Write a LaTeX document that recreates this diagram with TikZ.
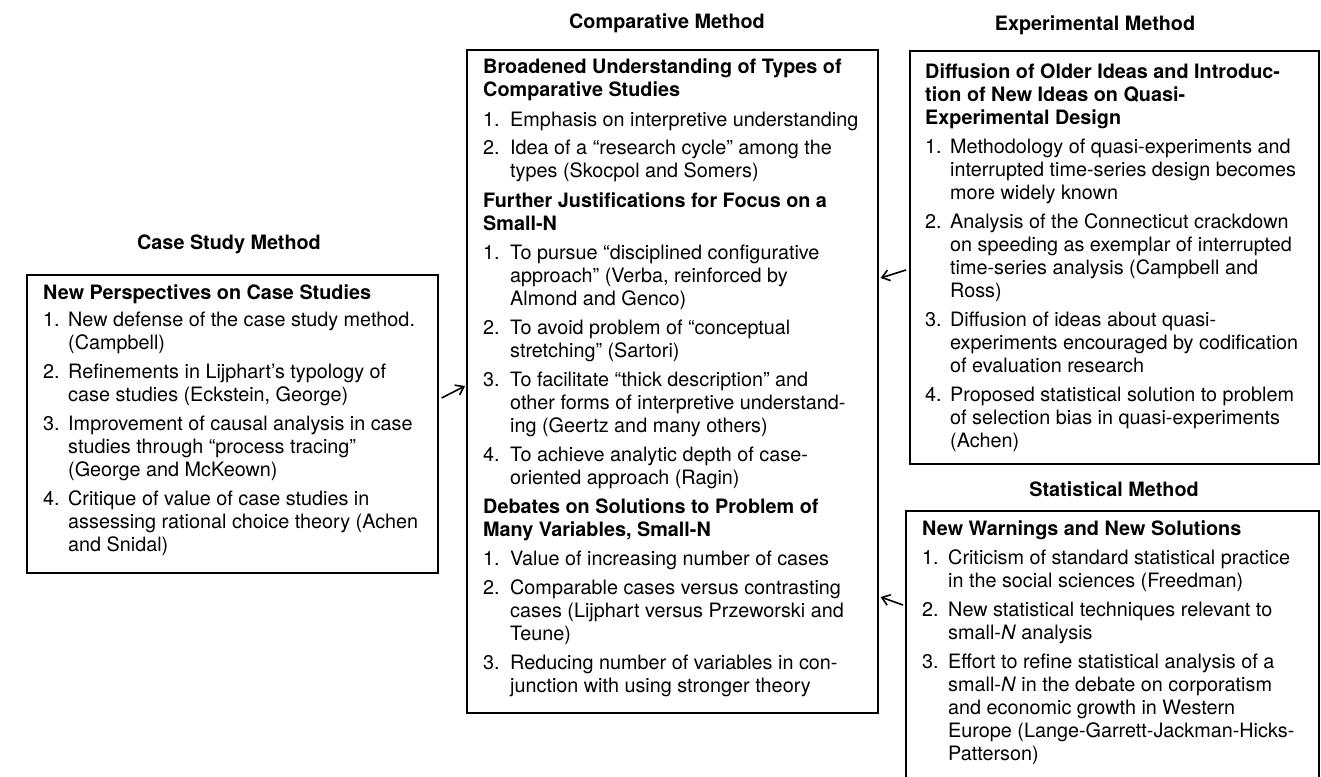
\documentclass[tikz,border=0pt]{standalone}
\usepackage{fontspec}
\setmainfont{TeX Gyre Heros}
\usetikzlibrary{arrows.meta,calc}
\tikzset{
  box/.style={draw, line width=1.6pt, anchor=north west, inner sep=0pt},
  txt/.style={anchor=base west, inner sep=0pt, font=\fontsize{19.8}{23}\selectfont},
  ttl/.style={anchor=base, inner sep=0pt, font=\fontsize{19.8}{23}\selectfont\bfseries},
  arr/.style={line width=1.6pt, -{Straight Barb[length=7.5pt,width=11pt]}}
}
\newcommand\hd[1]{\multicolumn{2}{@{}l@{}}{\bfseries #1}}
\begin{document}
\begin{tikzpicture}[x=1pt,y=-1pt]
\useasboundingbox (0,0) rectangle (1321,776);
\clip (0,0) rectangle (1321,776);

% titles
\node[ttl] (tcase) at (229,249) {Case Study Method};
\node[ttl] (tcomp) at (667,29) {Comparative Method};
\node[ttl] (texp) at (1095,31) {Experimental Method};
\node[ttl] (tstat) at (1114,496) {Statistical Method};

% boxes
\node[box, minimum width=411pt, minimum height=298pt] (case) at (26,274) {};
\node[box, minimum width=411pt, minimum height=663pt] (comp) at (466,49) {};
\node[box, minimum width=409pt, minimum height=413pt] (exp) at (909,50) {};
\node[box, minimum width=413pt, minimum height=300pt] (stat) at (905,510) {};

% case text
\node[txt] (casetxt) at (43,299) {\begin{tabular}[t]{@{}p{25pt}@{}l@{}}
\hd{New Perspectives on Case Studies}\\[4pt]
1. & New defense of the case study method.\\
   & (Campbell)\\[6pt]
2. & Refinements in Lijphart’s typology of\\
   & case studies (Eckstein, George)\\[6pt]
3. & Improvement of causal analysis in case\\
   & studies through “process tracing”\\
   & (George and McKeown)\\[6pt]
4. & Critique of value of case studies in\\
   & assessing rational choice theory (Achen\\
   & and Snidal)
\end{tabular}};

% comparative text
\node[txt] (comptxt) at (483,74) {\begin{tabular}[t]{@{}p{27pt}@{}l@{}}
\hd{Broadened Understanding of Types of}\\
\hd{Comparative Studies}\\[6pt]
1. & Emphasis on interpretive understanding\\[6pt]
2. & Idea of a “research cycle” among the\\
   & types (Skocpol and Somers)\\[6pt]
\hd{Further Justifications for Focus on a}\\
\hd{Small-N}\\[6pt]
1. & To pursue “disciplined configurative\\
   & approach” (Verba, reinforced by\\
   & Almond and Genco)\\[6pt]
2. & To avoid problem of “conceptual\\
   & stretching” (Sartori)\\[6pt]
3. & To facilitate “thick description” and\\
   & other forms of interpretive understand-\\
   & ing (Geertz and many others)\\[6pt]
4. & To achieve analytic depth of case-\\
   & oriented approach (Ragin)\\[6pt]
\hd{Debates on Solutions to Problem of}\\
\hd{Many Variables, Small-N}\\[6pt]
1. & Value of increasing number of cases\\[6pt]
2. & Comparable cases versus contrasting\\
   & cases (Lijphart versus Przeworski and\\
   & Teune)\\[6pt]
3. & Reducing number of variables in con-\\
   & junction with using stronger theory
\end{tabular}};

% experimental text
\node[txt] (exptxt) at (925,78) {\begin{tabular}[t]{@{}p{25pt}@{}l@{}}
\hd{Diffusion of Older Ideas and Introduc-}\\
\hd{tion of New Ideas on Quasi-}\\
\hd{Experimental Design}\\[6pt]
1. & Methodology of quasi-experiments and\\
   & interrupted time-series design becomes\\
   & more widely known\\[6pt]
2. & Analysis of the Connecticut crackdown\\
   & on speeding as exemplar of interrupted\\
   & time-series analysis (Campbell and\\
   & Ross)\\[6pt]
3. & Diffusion of ideas about quasi-\\
   & experiments encouraged by codification\\
   & of evaluation research\\[6pt]
4. & Proposed statistical solution to problem\\
   & of selection bias in quasi-experiments\\
   & (Achen)
\end{tabular}};

% statistical text
\node[txt] (stattxt) at (922,535) {\begin{tabular}[t]{@{}p{26pt}@{}l@{}}
\hd{New Warnings and New Solutions}\\[6pt]
1. & Criticism of standard statistical practice\\
   & in the social sciences (Freedman)\\[6pt]
2. & New statistical techniques relevant to\\
   & small-\textit{N} analysis\\[6pt]
3. & Effort to refine statistical analysis of a\\
   & small-\textit{N} in the debate on corporatism\\
   & and economic growth in Western\\
   & Europe (Lange-Garrett-Jackman-Hicks-\\
   & Patterson)
\end{tabular}};

% arrows
\draw[arr] ($(case.north east)+(3,124)$) -- ($(comp.north west)+(-1,337)$);
\draw[arr] ($(exp.north west)+(-3,220)$) -- ($(comp.north east)+(2,229)$);
\draw[arr] ($(stat.north west)+(-2,95)$) -- ($(comp.north east)+(2,548)$);
\end{tikzpicture}
\end{document}
